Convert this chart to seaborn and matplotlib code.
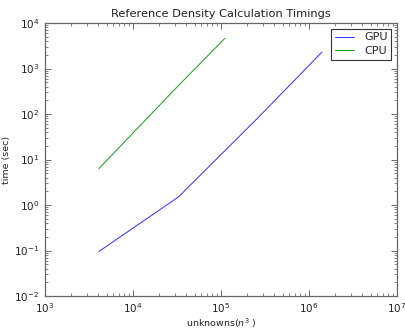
import matplotlib
matplotlib.use("Agg")
import matplotlib.pyplot as plt
import seaborn as sns
import pandas as pd
from matplotlib.ticker import LogLocator

gpu_x = [4096, 32768, 262144, 1404928]
gpu_t = [0.095, 1.5, 82, 2300]
cpu_x = [4096, 32768, 110592]
cpu_t = [6.3, 420, 4600]

df = pd.concat([
    pd.DataFrame({"n": gpu_x, "t": gpu_t, "dev": "GPU"}),
    pd.DataFrame({"n": cpu_x, "t": cpu_t, "dev": "CPU"}),
])

sns.set_style("ticks")
plt.rcParams['font.family'] = ['DejaVu Sans']
fig = plt.figure(figsize=(4.06, 3.29), dpi=100)
ax = fig.add_axes([45/406, 1-296/329, (397-45)/406, (296-23)/329])
sns.lineplot(data=df, x="n", y="t", hue="dev", palette={"GPU": "#3b3bff", "CPU": "#2a9a2a"},
             ax=ax, lw=0.75, sort=False, estimator=None)
ax.set_xscale("log")
ax.set_yscale("log")
ax.set_xlim(1e3, 1e7)
ax.set_ylim(1e-2, 1e4)
ax.xaxis.set_major_locator(LogLocator(base=10, numticks=10))
ax.yaxis.set_major_locator(LogLocator(base=10, numticks=10))
ax.xaxis.set_minor_locator(LogLocator(base=10, subs=range(2, 10), numticks=20))
ax.yaxis.set_minor_locator(LogLocator(base=10, subs=range(2, 10), numticks=20))
ax.tick_params(which="both", direction="in", top=True, right=True, labelsize=7.5, pad=4,
               colors="#555555", labelcolor="#222222")
ax.tick_params(which="major", length=4, width=0.6)
ax.tick_params(which="minor", length=2, width=0.5)
for s in ax.spines.values():
    s.set_linewidth(0.9)
    s.set_color("#666666")
ax.set_title("Reference Density Calculation Timings", fontsize=8.2, pad=4, color="#222222")
ax.set_xlabel(r"unknowns($n^3$ )", fontsize=6.8, labelpad=1, color="#222222")
ax.set_ylabel("time (sec)", fontsize=6.8, labelpad=2, color="#222222")
leg = ax.legend(loc="upper right", fontsize=8.0, fancybox=False, framealpha=1,
                edgecolor="#333333", handlelength=1.7, handletextpad=0.9,
                borderaxespad=0.5, labelspacing=0.3, borderpad=0.35)
leg.get_frame().set_linewidth(0.8)
fig.savefig("out.png", dpi=100)
